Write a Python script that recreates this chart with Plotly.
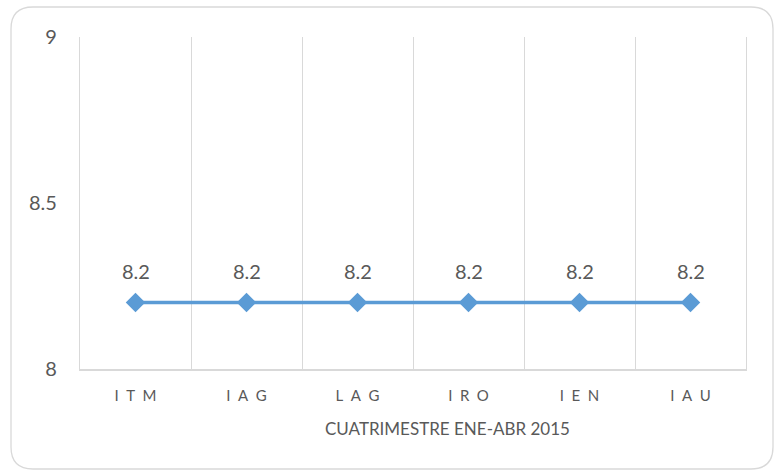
import plotly.graph_objects as go

categories = ["ITM", "IAG", "LAG", "IRO", "IEN", "IAU"]
values = [8.2, 8.2, 8.2, 8.2, 8.2, 8.2]
y_ticks = [8, 8.5, 9]
x_title = "CUATRIMESTRE ENE-ABR 2015"

def spaced(s):
    return "\u2002".join(s)

grey = "#595959"
blue = "#5B9BD5"
font_family = "Lato, Open Sans, sans-serif"

fig = go.Figure()
fig.add_trace(go.Scatter(
    x=categories, y=values, mode="lines+markers",
    line=dict(color=blue, width=3.5),
    marker=dict(symbol="diamond", size=15, color=blue),
    hoverinfo="skip", showlegend=False,
))
for c, v in zip(categories, values):
    fig.add_annotation(x=c, y=v, text=f"{v:g}", showarrow=False, yshift=32,
                       font=dict(family=font_family, size=20, color=grey))

L, R, T, B = 80, 36, 37, 102
W, H = 782, 471
pw, ph = W - L - R, H - T - B
def px(x): return (x - L) / pw
def py(y): return (H - B - y) / ph
x0, x1, y0, y1 = px(11), px(773), py(7), py(469)
rx, ry = 22 / pw, 22 / ph
path = (f"M {x0+rx},{y0} L {x1-rx},{y0} Q {x1},{y0} {x1},{y0-ry} "
        f"L {x1},{y1+ry} Q {x1},{y1} {x1-rx},{y1} L {x0+rx},{y1} Q {x0},{y1} {x0},{y1+ry} "
        f"L {x0},{y0-ry} Q {x0},{y0} {x0+rx},{y0} Z")
fig.add_shape(type="path", path=path, xref="paper", yref="paper",
              line=dict(color="#D9D9D9", width=1.3), layer="below")

fig.add_annotation(x=px(447), y=py(428), xref="paper", yref="paper", text=x_title,
                   showarrow=False, xanchor="center", yanchor="middle",
                   font=dict(family=font_family, size=17, color=grey))

fig.update_layout(
    width=W, height=H,
    margin=dict(l=L, r=R, t=T, b=B),
    paper_bgcolor="white", plot_bgcolor="white",
    font=dict(family=font_family, color=grey),
    xaxis=dict(
        type="category", tickmode="array", tickvals=categories,
        ticktext=[spaced(c) for c in categories],
        tickson="boundaries", showgrid=True, gridcolor="#D9D9D9", gridwidth=1.3,
        showline=True, linecolor="#D9D9D9", linewidth=1.5, ticks="",
        tickfont=dict(size=15, color=grey), range=[-0.5, 5.5],
        ticklabelstandoff=12,
        zeroline=False, fixedrange=True,
    ),
    yaxis=dict(
        range=[8, 9], tickvals=y_ticks, ticktext=[f"{t:g}" for t in y_ticks],
        showgrid=False, zeroline=False, showline=True, mirror=True,
        linecolor="#D9D9D9", linewidth=1.3, ticks="",
        tickfont=dict(size=20, color=grey), ticklabelstandoff=18, fixedrange=True,
    ),
)
fig.write_html("out.html", config={"displayModeBar": False},
               post_script="document.body.style.margin='0';document.body.style.overflow='hidden';")
